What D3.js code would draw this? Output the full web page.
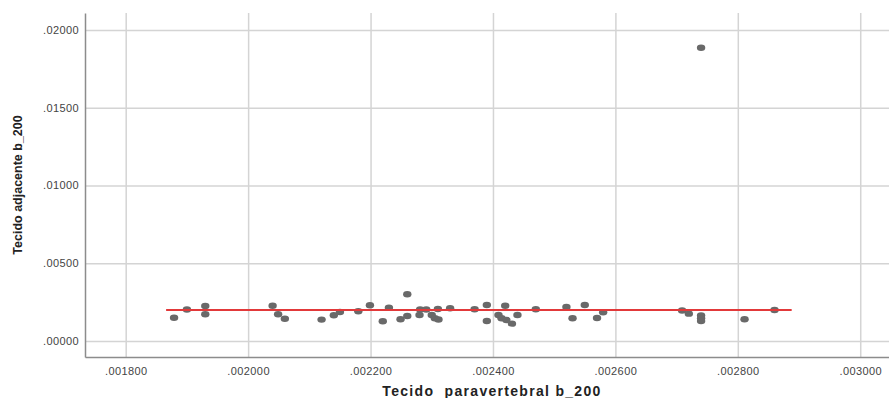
<!DOCTYPE html>
<html>
<head>
<meta charset="utf-8">
<script src="https://cdn.jsdelivr.net/npm/d3@7"></script>
<style>
  body { margin: 0; background: #fff; }
  svg { display: block; font-family: Arial, "Liberation Sans", sans-serif; }
</style>
</head>
<body>
<svg id="chart" width="889" height="398"></svg>
<script>
// values
const paravertebral = [
  0.001879, 0.001900, 0.001930, 0.001930, 0.002040, 0.002049, 0.002060, 0.002120,
  0.002140, 0.002150, 0.002180, 0.002199, 0.002220, 0.002230, 0.002249, 0.002260,
  0.002260, 0.002280, 0.002281, 0.002291, 0.002300, 0.002305, 0.002311, 0.002310,
  0.002330, 0.002370, 0.002390, 0.002390, 0.002409, 0.002414, 0.002420, 0.002422,
  0.002431, 0.002440, 0.002470, 0.002520, 0.002530, 0.002550, 0.002570, 0.002580,
  0.002709, 0.002720, 0.002740, 0.002740, 0.002740, 0.002811, 0.002860, 0.002740
];
const adjacente = [
  0.001498, 0.002026, 0.002251, 0.001717, 0.002264, 0.001717, 0.001428, 0.001376,
  0.001653, 0.001865, 0.001910, 0.002296, 0.001267, 0.002141, 0.001395, 0.001608,
  0.003003, 0.001672, 0.002026, 0.002026, 0.001672, 0.001460, 0.001383, 0.002058,
  0.002103, 0.002045, 0.002315, 0.001286, 0.001672, 0.001460, 0.002270, 0.001350,
  0.001113, 0.001672, 0.002045, 0.002187, 0.001460, 0.002315, 0.001479, 0.001852,
  0.001961, 0.001756, 0.001640, 0.001460, 0.001286, 0.001395, 0.001994, 0.018860
];
const fitX = [0.001866, 0.002888];
const fitY = [0.00199, 0.00199];
const xTicks = [0.0018, 0.0020, 0.0022, 0.0024, 0.0026, 0.0028, 0.0030];
const yTicks = [0.0, 0.005, 0.010, 0.015, 0.020];
const xTitle = "Tecido  paravertebral b_200";
const yTitle = "Tecido adjacente b_200";

const svg = d3.select("#chart");
const mLeft = 85, mRight = 889, mTop = 13, mBottom = 357;

const x = d3.scaleLinear().domain([0.0017335, 0.003047]).range([mLeft, mRight]);
const y = d3.scaleLinear().domain([-0.00103, 0.02109]).range([mBottom, mTop]);

// gridlines
svg.append("g")
  .attr("transform", `translate(0,${mBottom})`)
  .call(d3.axisBottom(x).tickValues(xTicks).tickSize(-(mBottom - mTop)).tickFormat(""))
  .call(g => g.select(".domain").remove())
  .call(g => g.selectAll("line").attr("stroke", "#d4d4d4").attr("stroke-width", 1.5));

svg.append("g")
  .attr("transform", `translate(${mLeft},0)`)
  .call(d3.axisLeft(y).tickValues(yTicks).tickSize(-(mRight - mLeft)).tickFormat(""))
  .call(g => g.select(".domain").remove())
  .call(g => g.selectAll("line").attr("stroke", "#d4d4d4").attr("stroke-width", 1.5));

// axes
const fmtX = d => d3.format(".6f")(d).replace(/^0/, "");
const fmtY = d => d3.format(".5f")(d).replace(/^0/, "");

svg.append("g")
  .attr("transform", `translate(0,${mBottom})`)
  .call(d3.axisBottom(x).tickValues(xTicks).tickSize(0).tickPadding(10).tickFormat(fmtX))
  .call(g => g.select(".domain").attr("stroke", "#8c8c8c").attr("stroke-width", 1.5))
  .call(g => g.selectAll("text").attr("fill", "#444").attr("font-size", 11).attr("letter-spacing", 0.4));

svg.append("g")
  .attr("transform", `translate(${mLeft},0)`)
  .call(d3.axisLeft(y).tickValues(yTicks).tickSize(0).tickPadding(6).tickFormat(fmtY))
  .call(g => g.select(".domain").attr("stroke", "#8c8c8c").attr("stroke-width", 1.5))
  .call(g => g.selectAll("text").attr("fill", "#444").attr("font-size", 11).attr("letter-spacing", 0.4));

// titles
svg.append("text")
  .attr("x", 492).attr("y", 396)
  .attr("text-anchor", "middle")
  .attr("font-weight", "bold").attr("font-size", 14)
  .attr("letter-spacing", 1.3)
  .attr("fill", "#222")
  .style("white-space", "pre")
  .text(xTitle);

svg.append("text")
  .attr("transform", "translate(22,185) rotate(-90)")
  .attr("text-anchor", "middle")
  .attr("font-weight", "bold").attr("font-size", 12.5)
  .attr("fill", "#222")
  .text(yTitle);

// points
const pts = paravertebral.map((v, i) => ({ x: v, y: adjacente[i] }));
svg.selectAll(".pt")
  .data(pts)
  .enter()
  .append("ellipse")
  .attr("class", "pt")
  .attr("cx", d => x(d.x))
  .attr("cy", d => y(d.y))
  .attr("rx", 4.2)
  .attr("ry", 3.2)
  .attr("fill", "#696969");

// fit line
const line = d3.line()
  .x(d => x(d[0]))
  .y(d => y(d[1]));

svg.append("path")
  .datum(fitX.map((v, i) => [v, fitY[i]]))
  .attr("fill", "none")
  .attr("stroke", "#e2393a")
  .attr("stroke-width", 2)
  .attr("d", line);
</script>
</body>
</html>
